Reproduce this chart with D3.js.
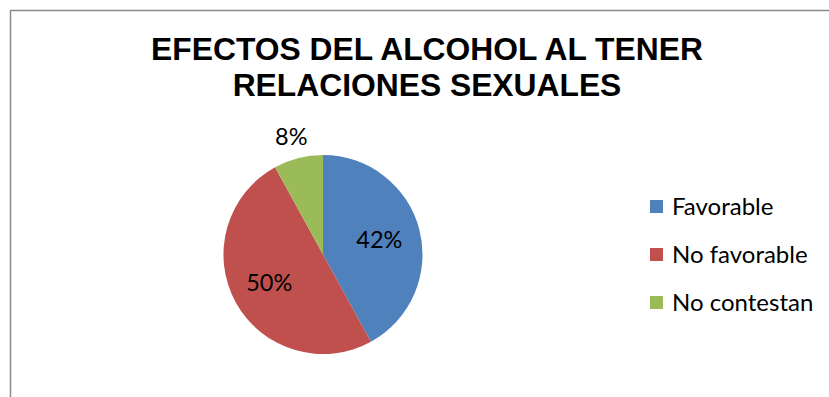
<!DOCTYPE html>
<html>
<head>
<meta charset="utf-8">
<script src="https://cdn.jsdelivr.net/npm/d3@7"></script>
<style>
  html, body { margin: 0; padding: 0; background: #fff; }
  svg { display: block; }
</style>
</head>
<body>
<script>
// Survey answers and their shares (percent)
const categories = ["Favorable", "No favorable", "No contestan"];
const values = [42, 50, 8];
const colors = ["#4F81BD", "#C0504D", "#9BBB59"];
const titleLines = ["EFECTOS DEL ALCOHOL AL TENER", "RELACIONES SEXUALES"];

const W = 829, H = 397;
const svg = d3.select("body").append("svg").attr("width", W).attr("height", H);

// chart-area frame (continues past the right and bottom edges)
svg.append("rect")
  .attr("x", 10.5).attr("y", 10.5)
  .attr("width", 1000).attr("height", 1000)
  .attr("fill", "#fff")
  .attr("stroke", "#8a8a8a").attr("stroke-width", 1.5);

// title
svg.append("g").selectAll("text").data(titleLines).join("text")
  .attr("x", 427)
  .attr("y", (d, i) => 60 + i * 36)
  .attr("text-anchor", "middle")
  .attr("font-family", "'Liberation Sans', Arial, sans-serif")
  .attr("font-weight", "bold")
  .attr("font-size", 31.8)
  .attr("fill", "#000")
  .text(d => d);

// pie
const cx = 323, cy = 254.5, R = 99.5;
const pie = d3.pie().sort(null).value(d => d.v);
const arcs = pie(categories.map((c, i) => ({ c, v: values[i], col: colors[i] })));
const arc = d3.arc().innerRadius(0).outerRadius(R);

const g = svg.append("g").attr("transform", `translate(${cx},${cy})`);
g.selectAll("path").data(arcs).join("path")
  .attr("d", arc)
  .attr("fill", d => d.data.col);

// percentage labels: inside for large slices, just outside for small ones
const labelFont = "Lato, 'Open Sans', sans-serif";
g.selectAll("text.pct").data(arcs).join("text")
  .attr("class", "pct")
  .each(function (d) {
    const small = (d.endAngle - d.startAngle) < 0.6;
    const r = small ? R * 1.22 : R * 0.6;
    const a = (d.startAngle + d.endAngle) / 2;
    d3.select(this)
      .attr("x", Math.sin(a) * r - 1.5)
      .attr("y", -Math.cos(a) * r + 8);
  })
  .attr("text-anchor", "middle")
  .attr("font-family", labelFont)
  .attr("font-size", 23.5)
  .attr("fill", "#000")
  .text(d => d.data.v + "%");

// legend
const leg = svg.append("g").attr("transform", "translate(650,0)");
const rows = leg.selectAll("g").data(categories).join("g")
  .attr("transform", (d, i) => `translate(0,${206.5 + i * 48})`);
rows.append("rect")
  .attr("x", 0).attr("y", -6.5)
  .attr("width", 13).attr("height", 13)
  .attr("fill", (d, i) => colors[i]);
rows.append("text")
  .attr("x", 22).attr("y", 8)
  .attr("font-family", labelFont)
  .attr("font-size", 24)
  .attr("fill", "#000")
  .text(d => d);
</script>
</body>
</html>
